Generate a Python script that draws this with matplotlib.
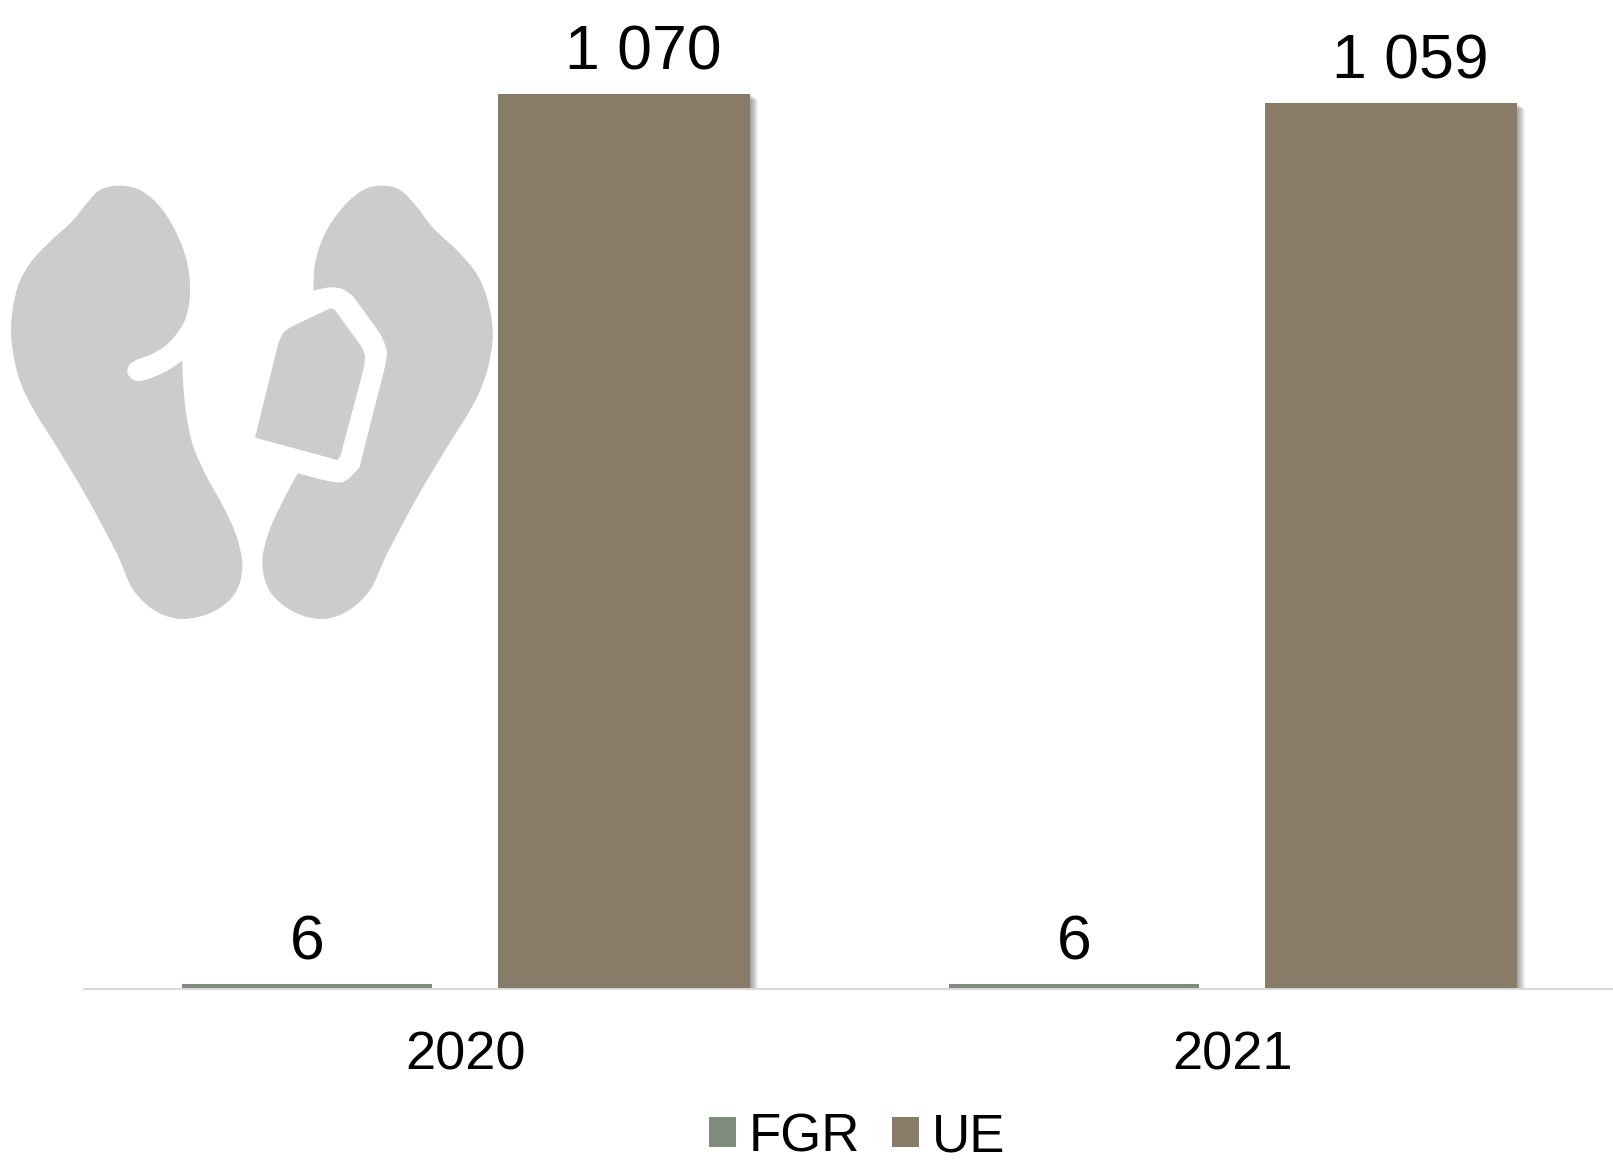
import matplotlib
matplotlib.use("Agg")
import matplotlib.pyplot as plt
import matplotlib.patheffects as pe
from matplotlib.patches import PathPatch, Patch
from matplotlib.path import Path

years = ["2020", "2021"]
fgr = [6, 6]
ue = [1070, 1059]

W, H = 1613, 1167
plt.rcParams["font.family"] = ["Liberation Sans", "DejaVu Sans"]

# icon outlines, traced in picture pixels *3 (x, y from top left of the icon box)
left_foot = [(547,572),(550,650),(560,740),(580,830),(620,920),(670,1010),(710,1100),(727,1190),
             (705,1270),(640,1325),(550,1347),(470,1325),(400,1260),(350,1150),(265,990),(170,830),
             (90,700),(50,600),(33,480),(50,360),(90,280),(150,215),(215,155),(260,100),(300,60),
             (355,47),(420,60),(480,110),(530,190),(562,280),(570,370),(555,450),(510,515),(460,550),
             (405,572),(385,590),(385,615),(410,633),(450,625),(500,603),(547,572)]
right_foot_a = [(940,362),(945,280),(975,190),(1030,110),(1090,60),(1145,47),(1200,60),(1250,110),
                (1300,175),(1375,245),(1435,320),(1468,410),(1478,500),(1462,600),(1422,700),(1342,830),
                (1247,990),(1162,1150),(1110,1260),(1040,1325),(965,1347),(880,1325),(810,1265),
                (787,1180),(805,1090),(845,1000),(893,910)]
right_foot_b = [(893,910),(1000,936),(1040,930),(1078,893)]
right_foot_c = [(1078,893),(1155,590)]
right_foot_d = [(1155,590),(1160,540),(1140,490)]
right_foot_e = [(1140,490),(1060,380)]
right_foot_f = [(1060,380),(1030,358),(990,352),(940,362)]
tag_chains = [[(765,803),(835,520)],
              [(835,520),(850,488),(875,470)],
              [(875,470),(990,415)],
              [(990,415),(1003,418)],
              [(1003,418),(1085,530)],
              [(1085,530),(1095,560),(1090,600)],
              [(1090,600),(1022,855)],
              [(1022,855),(1012,870)],
              [(1012,870),(765,803)]]


def smooth(pts):
    # catmull-rom chain written as bezier pieces
    out = []
    for i in range(len(pts) - 1):
        p0 = pts[max(i - 1, 0)]
        p1 = pts[i]
        p2 = pts[i + 1]
        p3 = pts[min(i + 2, len(pts) - 1)]
        c1 = (p1[0] + (p2[0] - p0[0]) / 6, p1[1] + (p2[1] - p0[1]) / 6)
        c2 = (p2[0] - (p3[0] - p1[0]) / 6, p2[1] - (p3[1] - p1[1]) / 6)
        out += [c1, c2, p2]
    return out


def icon_path(chains):
    verts = [chains[0][0]]
    codes = [Path.MOVETO]
    for c in chains:
        s = smooth(c)
        verts += s
        codes += [Path.CURVE4] * len(s)
    verts = [(x / 3, 170 + y / 3) for x, y in verts]
    return Path(verts, codes)


fig = plt.figure(figsize=(W / 100, H / 100), dpi=100)
ax = fig.add_axes([82 / W, 1 - 989 / H, (W - 82) / W, 989 / H])

off = 0.2067
x = range(len(years))
fgr_color = "#7F8C7D"
ue_color = "#887B67"

shadow = [pe.SimplePatchShadow(offset=(k * 0.72, -k * 0.5), shadow_rgbFace="k", alpha=0.05) for k in (8, 7, 6, 5, 4, 3, 2, 1)]
shadow.append(pe.Normal())

b1 = ax.bar([i - off for i in x], fgr, 0.326, color=fgr_color)
b2 = ax.bar([i + off for i in x], ue, 0.3295, color=ue_color, path_effects=shadow)

for bars, vals, dx in ((b1, fgr, 0), (b2, ue, 13.7)):
    for r, v in zip(bars, vals):
        ax.annotate(f"{v:,}".replace(",", " "), (r.get_x() + r.get_width() / 2, v),
                    xytext=(dx, 17.6), textcoords="offset points",
                    ha="center", va="baseline", fontsize=45, color="black")

ax.set_xlim(-0.5, (W - 82) / 767 - 0.5)
ax.set_ylim(0, 989 / (895 / 1070))
ax.set_xticks(list(x))
ax.set_xticklabels(years, fontsize=39)
ax.tick_params(axis="x", length=0, pad=29.8)
ax.set_yticks([])
for s in ["top", "left", "right"]:
    ax.spines[s].set_visible(False)
ax.spines["bottom"].set_color("#D9D9D9")
ax.spines["bottom"].set_linewidth(1.4)
ax.spines["bottom"].set_bounds(-0.5 + 2 / 767, (W - 82) / 767 - 0.5)

handles = [Patch(facecolor=fgr_color, label="FGR"), Patch(facecolor=ue_color, label="UE")]
fig.legend(handles=handles, loc="center", bbox_to_anchor=(857 / W, 1 - 1137 / H), ncol=2, frameon=False, fontsize=38,
           handlelength=0.51, handleheight=0.51, handletextpad=0.25, columnspacing=0.6,
           borderpad=0, borderaxespad=0)

# icon layer in pixel coordinates
over = fig.add_axes([0, 0, 1, 1], zorder=5)
over.set_xlim(0, W)
over.set_ylim(H, 0)
over.axis("off")
over.patch.set_alpha(0)
for chains in ([left_foot],
               [right_foot_a, right_foot_b, right_foot_c, right_foot_d, right_foot_e, right_foot_f],
               tag_chains):
    over.add_patch(PathPatch(icon_path(chains), facecolor="#CCCCCC", edgecolor="none"))

fig.savefig("out.png", dpi=100)
